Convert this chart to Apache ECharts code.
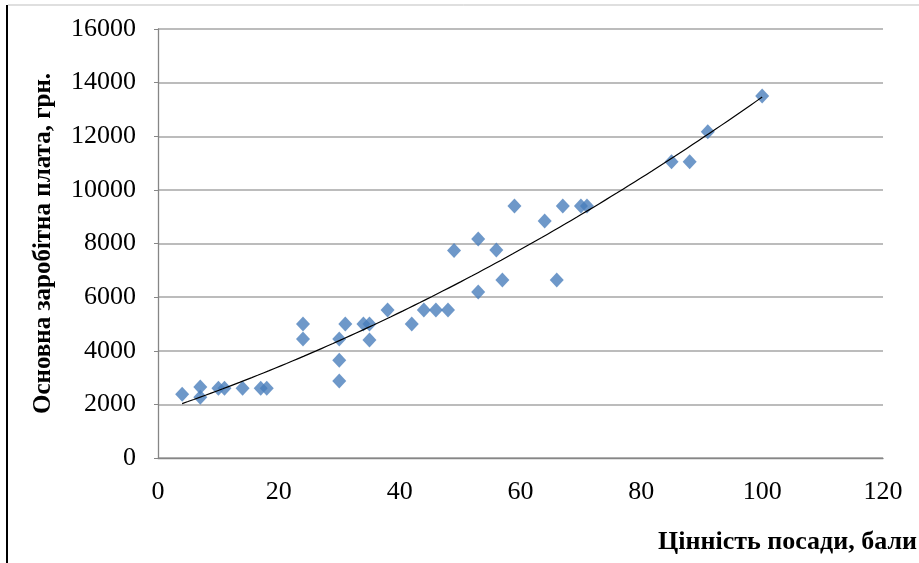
<!DOCTYPE html>
<html>
<head>
<meta charset="utf-8">
<script src="https://cdn.jsdelivr.net/npm/echarts@6/dist/echarts.min.js"></script>
<style>html,body{margin:0;padding:0;background:#fff}#c{width:919px;height:563px}</style>
</head>
<body>
<div id="c"></div>
<script>
const xValues = [4, 7, 7, 10, 11, 14, 17, 18, 24, 24, 30, 30, 30, 31, 34, 35, 35, 38, 42, 44, 46, 48, 49, 53, 53, 56, 57, 59, 64, 66, 67, 70, 71, 85, 88, 91, 100];
const yValues = [2380, 2650, 2270, 2600, 2600, 2600, 2600, 2600, 5000, 4440, 4440, 3650, 2870, 5000, 5000, 5000, 4400, 5520, 5000, 5520, 5520, 5520, 7740, 8170, 6190, 7760, 6640, 9400, 8840, 6640, 9400, 9400, 9400, 11050, 11050, 12170, 13500];
const xTicks = [0, 20, 40, 60, 80, 100, 120];
const yTicks = [0, 2000, 4000, 6000, 8000, 10000, 12000, 14000, 16000];
const xTitle = 'Цінність посади, бали';
const yTitle = 'Основна заробітна плата, грн.';

// least-squares quadratic trendline (as in the spreadsheet)
function quadFit(xs, ys) {
  let S = [0,0,0,0,0], T = [0,0,0];
  for (let i = 0; i < xs.length; i++) {
    let p = 1;
    for (let k = 0; k < 5; k++) { S[k] += p; if (k < 3) T[k] += p * ys[i]; p *= xs[i]; }
  }
  const A = [[S[0],S[1],S[2],T[0]],[S[1],S[2],S[3],T[1]],[S[2],S[3],S[4],T[2]]];
  for (let i = 0; i < 3; i++) {
    for (let j = i + 1; j < 3; j++) {
      const f = A[j][i] / A[i][i];
      for (let k = i; k < 4; k++) A[j][k] -= f * A[i][k];
    }
  }
  const c = [0,0,0];
  for (let i = 2; i >= 0; i--) {
    let s = A[i][3];
    for (let k = i + 1; k < 3; k++) s -= A[i][k] * c[k];
    c[i] = s / A[i][i];
  }
  return c;
}
const coef = quadFit(xValues, yValues);
const xMin = Math.min(...xValues), xMax = Math.max(...xValues);
const trend = [];
for (let i = 0; i <= 100; i++) {
  const x = xMin + (xMax - xMin) * i / 100;
  trend.push([x, coef[0] + coef[1] * x + coef[2] * x * x]);
}

const chart = echarts.init(document.getElementById('c'));
const font = '"Liberation Serif", "Times New Roman", serif';
chart.setOption({
  animation: false,
  grid: { left: 158, right: 36, top: 29, bottom: 105, containLabel: false },
  xAxis: {
    type: 'value', min: xTicks[0], max: xTicks[xTicks.length - 1], interval: xTicks[1] - xTicks[0],
    axisLine: { show: true, lineStyle: { color: '#868686', width: 1.3 } },
    axisTick: { show: false },
    axisLabel: { color: '#000', fontFamily: font, fontSize: 26, margin: 21, formatter: v => String(v) },
    splitLine: { show: false }
  },
  yAxis: {
    type: 'value', min: yTicks[0], max: yTicks[yTicks.length - 1], interval: yTicks[1] - yTicks[0],
    name: yTitle, nameLocation: 'middle', nameGap: 102,
    nameTextStyle: { color: '#000', fontFamily: font, fontSize: 25, fontWeight: 'bold' },
    axisLine: { show: true, lineStyle: { color: '#868686', width: 1.3 } },
    axisTick: { show: true, length: 4, lineStyle: { color: '#868686' } },
    axisLabel: { color: '#000', fontFamily: font, fontSize: 26, margin: 22, formatter: v => String(v) },
    splitLine: { show: true, lineStyle: { color: '#a6a6a6', width: 1.5 } }
  },
  graphic: [
    { type: 'line', shape: { x1: 7, y1: 5, x2: 7, y2: 563 }, style: { stroke: '#000', lineWidth: 2 } },
    { type: 'line', shape: { x1: 8, y1: 5, x2: 919, y2: 5 }, style: { stroke: '#bfbfbf', lineWidth: 1 } },
    { type: 'text', right: 2, top: 529, style: { text: xTitle, font: 'bold 26px ' + font, fill: '#000' } }
  ],
  series: [
    {
      type: 'scatter', symbol: 'diamond', symbolSize: [14, 15],
      itemStyle: { color: '#4a7ebb' },
      data: xValues.map((x, i) => [x, yValues[i]]), z: 3
    },
    {
      type: 'line', showSymbol: false, smooth: false,
      lineStyle: { color: '#000', width: 1.2 },
      data: trend, z: 4, silent: true
    }
  ]
});
</script>
</body>
</html>
